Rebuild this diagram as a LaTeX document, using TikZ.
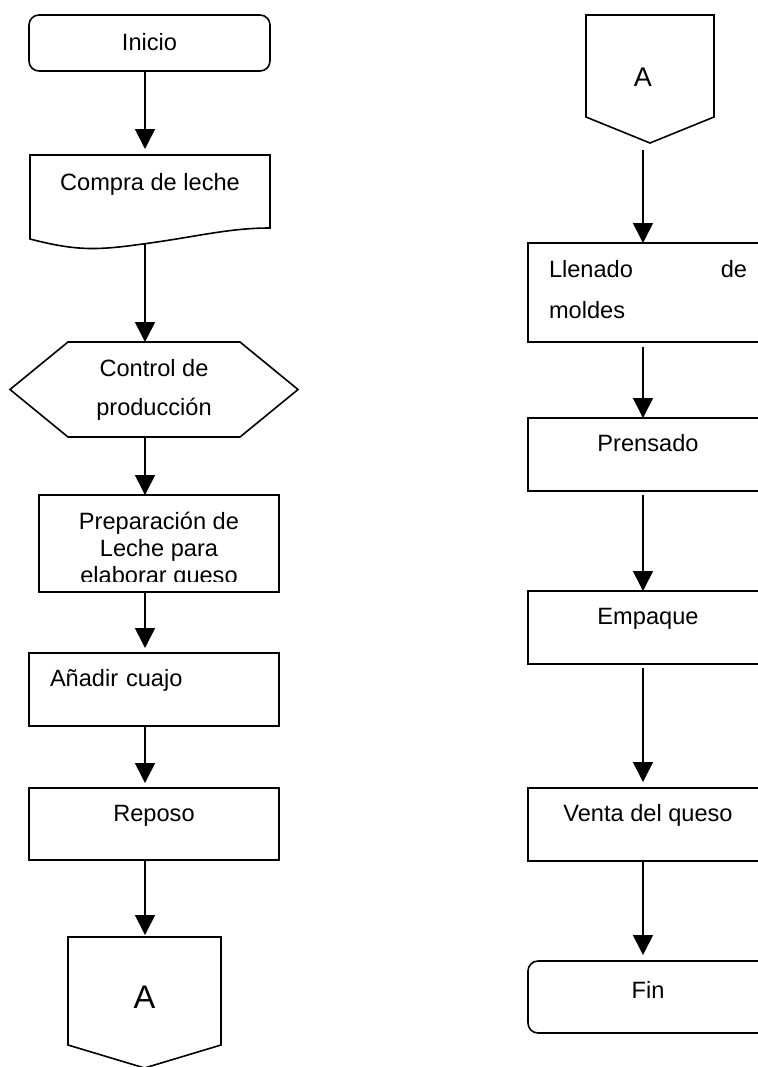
\documentclass[tikz,border=0pt]{standalone}
\usepackage{fontspec}
\setmainfont{Liberation Sans}
\usetikzlibrary{arrows.meta}

\begin{document}
\begin{tikzpicture}[x = 0.5pt,
                    y = -0.5pt,
                    line width = 0.8pt]
% styles of boxes and arrows
\tikzset{base/.style={inner sep=0pt, outer sep=0pt, font=\fontsize{11.8pt}{14pt}\selectfont},
         stepbox/.style={base, draw, minimum width=120pt, text height=16.8pt, text depth=19.7pt},
         endbox/.style={base, draw, rounded corners=5pt, minimum width=120pt},
         shapebox/.style={base, draw=none},
         flow/.style={arrows = -{Triangle[length=10pt,width=10pt]}}}
% page
\useasboundingbox (0,0) rectangle (758,1067);
\clip (0,0) rectangle (758,1067);
% lines of the two columns
\coordinate (lx) at (145,0);
\coordinate (rx) at (643,0);

%left column
\node[endbox, minimum width=120.5pt, text height=17.5pt, text depth=10.5pt] (inicio) at (149.5,43) {Inicio};
%document
\node[shapebox, minimum width=120pt, text height=17.5pt, text depth=27pt] (compra) at (150,199.5) {Compra de leche};
\draw (compra.north west) -- (compra.north east) -- ([yshift=8pt]compra.south east)
  .. controls ([xshift=-20pt,yshift=8pt]compra.south east) and ([xshift=25pt,yshift=4pt]compra.south) .. ([yshift=0.5pt]compra.south)
  .. controls ([xshift=-25pt,yshift=-3pt]compra.south) and ([xshift=25pt,yshift=-4pt]compra.south west) .. ([yshift=2.5pt]compra.south west)
  -- cycle;
%hexagon
\node[shapebox, minimum width=144pt, minimum height=47.5pt, align=center,
      font=\fontsize{11.8pt}{19.5pt}\selectfont] (control) at (154,389.5) {Control de\\producción};
\draw (control.west) --
 ([xshift=29pt]control.north west) --
 ([xshift=-29pt]control.north east) --
 (control.east) --
 ([xshift=-29pt]control.south east) --
 ([xshift=29pt]control.south west) -- cycle;
%text cut at the bottom
\node[base, draw, minimum width=120pt, minimum height=48.5pt] (prep) at (159,543.5) {};
\begin{scope}
\clip (prep.north west) rectangle ([yshift=5.5pt]prep.south east);
\node[base, anchor=base] (preptext) at (159,529)
  {\parbox[t]{120pt}{\centering\fontsize{11.8pt}{13.5pt}\selectfont Preparación de\\Leche para\\elaborar queso}};
\end{scope}
\node[stepbox, minimum width=125pt, text width=104pt, align=left, inner xsep=10.5pt] (anadir) at (154,689.5) {Añadir cuajo};
\node[stepbox, minimum width=125pt, text height=16.5pt, text depth=19.5pt] (reposo) at (154,824) {Reposo};
%connector A
\node[shapebox, minimum width=76.5pt, text height=35.5pt, text depth=18.5pt,
      font=\fontsize{16.3pt}{19pt}\selectfont] (offA) at (144.5,991) {A};
\draw (offA.north west) --
 (offA.north east) --
 (offA.south east) --
 ([yshift=-11.5pt]offA.south) --
 (offA.south west) -- cycle;

%right column
\node[shapebox, minimum width=64pt, text height=35.5pt, text depth=15.5pt,
      font=\fontsize{13.5pt}{16pt}\selectfont] (onA) at (650,66) {\hspace*{-7pt}A};
\draw (onA.north west) --
 (onA.north east) --
 (onA.south east) --
 ([yshift=-13pt]onA.south) --
 (onA.south west) -- cycle;
\node[base, draw, minimum width=120pt, text height=17pt, text depth=32.5pt] (llenado) at (648,292.5)
  {\parbox[t]{99pt}{\baselineskip=20.5pt Llenado\hfill de\\moldes}};
\node[stepbox] (prensado) at (648,454.5) {Prensado};
\node[stepbox] (empaque) at (648,627.5) {Empaque};
\node[stepbox] (venta) at (648,824.5) {Venta del queso};
\node[endbox, text height=18.7pt, text depth=17.3pt] (fin) at (648,997) {Fin};

%arrows left
\draw[flow, shorten >=3pt] (inicio.south -| lx) -- (compra.north -| lx);
\draw[flow] (compra.south -| lx) -- (control.north -| lx);
\draw[flow] (control.south -| lx) -- (prep.north -| lx);
\draw[flow, shorten >=2.5pt] (prep.south -| lx) -- (anadir.north -| lx);
\draw[flow, shorten >=2.5pt] (anadir.south -| lx) -- (reposo.north -| lx);
\draw[flow, shorten >=1pt] (reposo.south -| lx) -- (offA.north -| lx);
%arrows right
\draw[flow, shorten <=16.5pt] (onA.south -| rx) -- (llenado.north -| rx);
\draw[flow, shorten <=2.5pt] (llenado.south -| rx) -- (prensado.north -| rx);
\draw[flow, shorten <=2pt] (prensado.south -| rx) -- (empaque.north -| rx);
\draw[flow, shorten <=2pt, shorten >=3pt] (empaque.south -| rx) -- (venta.north -| rx);
\draw[flow, shorten >=3pt] (venta.south -| rx) -- (fin.north -| rx);
\end{tikzpicture}
\end{document}
